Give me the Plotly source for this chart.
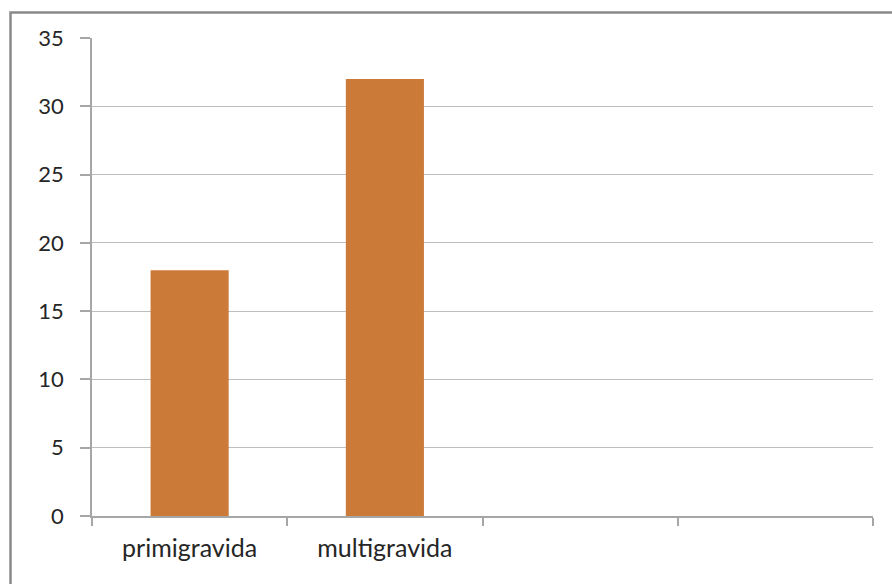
import plotly.graph_objects as go

categories = ["primigravida", "multigravida", " ", "  "]
values = [18, 32, None, None]
y_ticks = [0, 5, 10, 15, 20, 25, 30, 35]

W, H = 892, 584
L, R, T, B = 92, 19, 38, 68
pw, ph = W - L - R, H - T - B

fig = go.Figure(go.Bar(x=categories, y=values, marker=dict(color="#CC7A38", line=dict(width=0)), width=0.4))

fig.update_layout(
    width=W, height=H,
    margin=dict(l=L, r=R, t=T, b=B),
    paper_bgcolor="white", plot_bgcolor="white",
    showlegend=False,
    font=dict(family="Lato", size=20, color="#262626"),
    bargap=0.6,
)
fig.update_xaxes(
    type="category", categoryorder="array", categoryarray=categories,
    showline=True, linecolor="#A6A6A6", linewidth=1.5,
    ticks="outside", tickson="boundaries", ticklen=8, tickcolor="#A6A6A6", tickwidth=1.5,
    showgrid=False, ticklabelstandoff=9, tickfont=dict(size=25),
)
fig.update_yaxes(
    range=[0, 35], tickvals=y_ticks,
    showgrid=True, gridcolor="#BDBDBD", gridwidth=1.2,
    showline=True, linecolor="#A6A6A6", linewidth=1.5,
    ticks="outside", ticklen=10, tickcolor="#A6A6A6", tickwidth=1.5,
    zeroline=False, ticklabelstandoff=12, tickfont=dict(size=22),
)
# outer chart border (left and top visible)
x0 = (10.5 - L) / pw
y1 = 1 + (T - 12.5) / ph
fig.add_shape(type="rect", xref="paper", yref="paper", x0=x0, x1=1.2, y0=-0.3, y1=y1,
              line=dict(color="#8A8A8A", width=2.5), layer="below")

fig.write_html("out.html")
